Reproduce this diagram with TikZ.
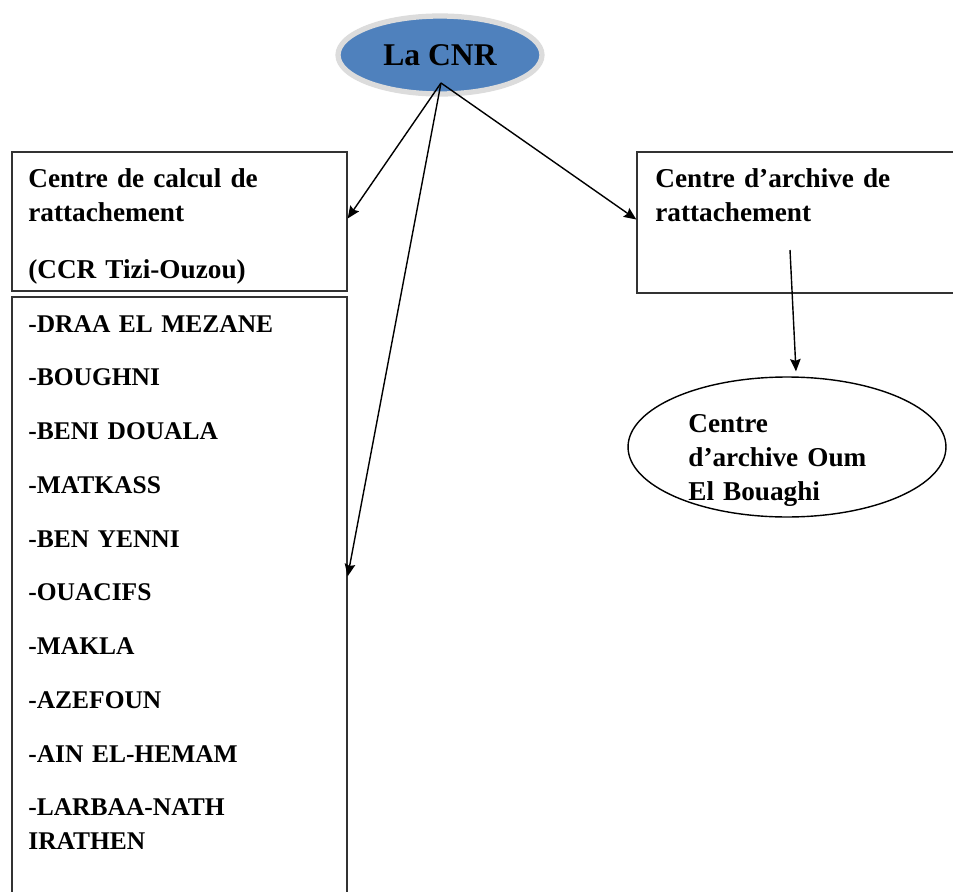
\documentclass[tikz,border=0pt]{standalone}
\usepackage{fontspec}
\setmainfont{Liberation Serif}
\usetikzlibrary{shapes.geometric, arrows, arrows.meta, positioning, shadows}
\usepackage{xcolor}
\definecolor{cnrblue}{RGB}{79, 129, 189}
\definecolor{cnrrim}{RGB}{220, 220, 220}
\tikzstyle{box} = [rectangle, draw=black!80, line width=0.8pt, inner sep=0pt]
\tikzstyle{txt} = [font=\fontsize{15.5}{19.4}\selectfont\bfseries, inner sep=0pt, align=left, anchor=base west]
\tikzstyle{arrow} = [line width=0.8pt, -{Stealth[length=7pt, width=6pt, inset=1pt]}]

\begin{document}
\begin{tikzpicture}[x=0.02cm, y=-0.02cm]
\clip (0,0) rectangle (953,892);
% Top node
\node[ellipse, fill=cnrblue, draw=cnrrim, line width=3pt, minimum width=4.08cm, minimum height=1.56cm, font=\fontsize{18}{22}\selectfont\bfseries] (cnr) at (440,55) {La CNR};
\coordinate (cnr-src) at (441,83);

% Boxes
\node[box, minimum width=6.7cm, minimum height=2.78cm] (ccr) at (179.5,221.5) {};
\node[box, minimum width=6.7cm, minimum height=13.06cm] (list) at (179.5,623.5) {};
\node[box, minimum width=6.66cm, minimum height=2.82cm] (archive) at (803.5,222.5) {};
\node[ellipse, draw, line width=0.8pt, minimum width=6.36cm, minimum height=2.8cm] (bouaghi) at (787,447) {};
\coordinate (archive-src) at (790,250);

% Texts
\node[txt, text width=6cm] (ccr-txt) at (28,187) {Centre de calcul de\\rattachement\\[13pt](CCR Tizi-Ouzou)};
\node[txt, text width=6cm, font=\fontsize{14.5}{19.4}\selectfont\bfseries] (list-txt) at (28,332) {-DRAA EL MEZANE\\[11.2pt]
    -BOUGHNI\\[11.2pt]
    -BENI DOUALA\\[11.2pt]
    -MATKASS\\[11.2pt]
    -BEN YENNI\\[11.2pt]
    -OUACIFS\\[11.2pt]
    -MAKLA\\[11.2pt]
    -AZEFOUN\\[11.2pt]
    -AIN EL-HEMAM\\[11.2pt]
    -LARBAA-NATH\\IRATHEN};
\node[txt, text width=5.5cm] (archive-txt) at (655,187) {Centre d’archive de\\rattachement};
\node[txt, text width=4cm] (bouaghi-txt) at (688,432) {Centre\\d’archive Oum\\El Bouaghi};

% Arrows
\draw[arrow] (cnr-src) -- ([yshift=0.06cm]ccr.east);
\draw[arrow] (cnr-src) -- ([yshift=-5.6cm]list.north east);
\draw[arrow] (cnr-src) -- ([yshift=0.06cm]archive.west);
\draw[arrow] (archive-src) -- ([xshift=0.18cm, yshift=0.1cm]bouaghi.north);
\end{tikzpicture}
\end{document}
